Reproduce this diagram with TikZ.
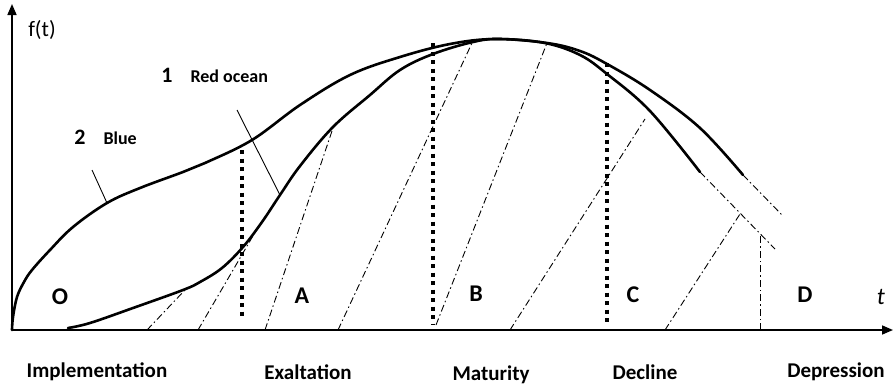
\documentclass[tikz,border=0pt]{standalone}
\usepackage{fontspec}
\setmainfont{Carlito}
\usetikzlibrary{arrows.meta}
\tikzset{
  axis/.style={line width=1.6pt,-{Triangle[length=11pt,width=9pt]}},
  curve/.style={line width=2.6pt,line cap=round},
  phase/.style={line width=4.4pt,dash pattern=on 4pt off 4.5pt},
  trend/.style={line width=0.9pt,dash pattern=on 7pt off 3pt on 1.5pt off 3pt},
  leader/.style={line width=0.9pt},
  zone/.style={font=\fontsize{24}{28}\selectfont\bfseries},
  stage/.style={font=\fontsize{21}{25}\selectfont\bfseries},
  num/.style={font=\fontsize{22}{26}\selectfont\bfseries},
  tag/.style={font=\fontsize{18}{22}\selectfont\bfseries}
}
\begin{document}
\begin{tikzpicture}[x=1pt,y=-1pt]
  \useasboundingbox (0,0) rectangle (893,386);
  % axes
  \coordinate (orig) at (12,330);
  \coordinate (ytop) at (12,4);
  \coordinate (xend) at (893,330);
  \draw[axis] (orig) -- (ytop);
  \draw[axis] (orig) -- (xend);
  \node (ft) at (42,30) {\fontsize{22}{26}\selectfont f(t)};
  \node (tt) at (881,297) {\fontsize{24}{28}\selectfont\itshape t};
  % phase borders
  \coordinate (pa1) at (242,150); \coordinate (pa2) at (242,318);
  \coordinate (pb1) at (433,43);  \coordinate (pb2) at (433,325);
  \coordinate (pc1) at (607,63);  \coordinate (pc2) at (607,323);
  \draw[phase] (pa1) -- (pa2);
  \draw[phase] (pb1) -- (pb2);
  \draw[phase] (pc1) -- (pc2);
  % curve 2 (blue)
  \draw[curve] plot[smooth,tension=0.6] coordinates {(12,330) (13,317) (17,297) (24,282)
    (32,270) (50,250) (73,227) (107,203) (140,188) (183,172) (205,163) (252,140)
    (300,105) (350,75) (400,57) (450,44) (495,39) (547,43) (580,51) (607,64)
    (650,90) (700,128) (743,175)};
  % curve 1 (red ocean)
  \draw[curve] plot[smooth,tension=0.6] coordinates {(68,328) (90,323) (133,308) (183,290)
    (200,282) (222,268) (243,247) (262,222) (280,195) (300,166) (333,127) (370,95)
    (400,70) (433,54) (473,42) (500,39) (545,43) (580,55) (607,74) (650,111) (700,172)};
  % extrapolation
  \coordinate (be1) at (743,175); \coordinate (be2) at (782,215);
  \coordinate (re1) at (700,172); \coordinate (re2) at (775,249);
  \draw[trend] (be1) -- (be2);
  \draw[trend] (re1) -- (re2);
  % trend lines
  \coordinate (s1) at (147,330); \coordinate (e1) at (185,290);
  \coordinate (s2) at (198,330); \coordinate (e2) at (257,229);
  \coordinate (s3) at (265,330); \coordinate (e3) at (333,128);
  \coordinate (s4) at (338,330); \coordinate (e4) at (472,43);
  \coordinate (s5) at (436,325); \coordinate (e5) at (547,43);
  \coordinate (s6) at (510,330); \coordinate (e6) at (645,119);
  \coordinate (s7) at (665,330); \coordinate (e7) at (740,214);
  \coordinate (s8) at (760,330); \coordinate (e8) at (760,234);
  \foreach \i in {1,...,8}
    \draw[trend] (s\i) -- (e\i);
  % leaders and labels
  \coordinate (lr1) at (237,110); \coordinate (lr2) at (280,195);
  \coordinate (lb1) at (92,170);  \coordinate (lb2) at (107,203);
  \draw[leader] (lr1) -- (lr2);
  \draw[leader] (lb1) -- (lb2);
  \node[num] (n1) at (167,75) {1};
  \node[tag,anchor=west] (red) at (187,76) {Red ocean};
  \node[num] (n2) at (80,137) {2};
  \node[tag,anchor=west] (blue) at (100,138) {Blue};
  % zones
  \node[zone] (zo) at (60,297) {O};
  \node[zone] (za) at (302,296) {A};
  \node[zone] (zb) at (476,294) {B};
  \node[zone] (zc) at (633,295) {C};
  \node[zone] (zd) at (805,295) {D};
  % stages
  \node[stage] (impl) at (97,372) {Implementation};
  \node[stage] (exal) at (308,372) {Exaltation};
  \node[stage] (matu) at (491,375) {Maturity};
  \node[stage] (decl) at (645,372) {Decline};
  \node[stage] (depr) at (836,372) {Depression};
\end{tikzpicture}
\end{document}
